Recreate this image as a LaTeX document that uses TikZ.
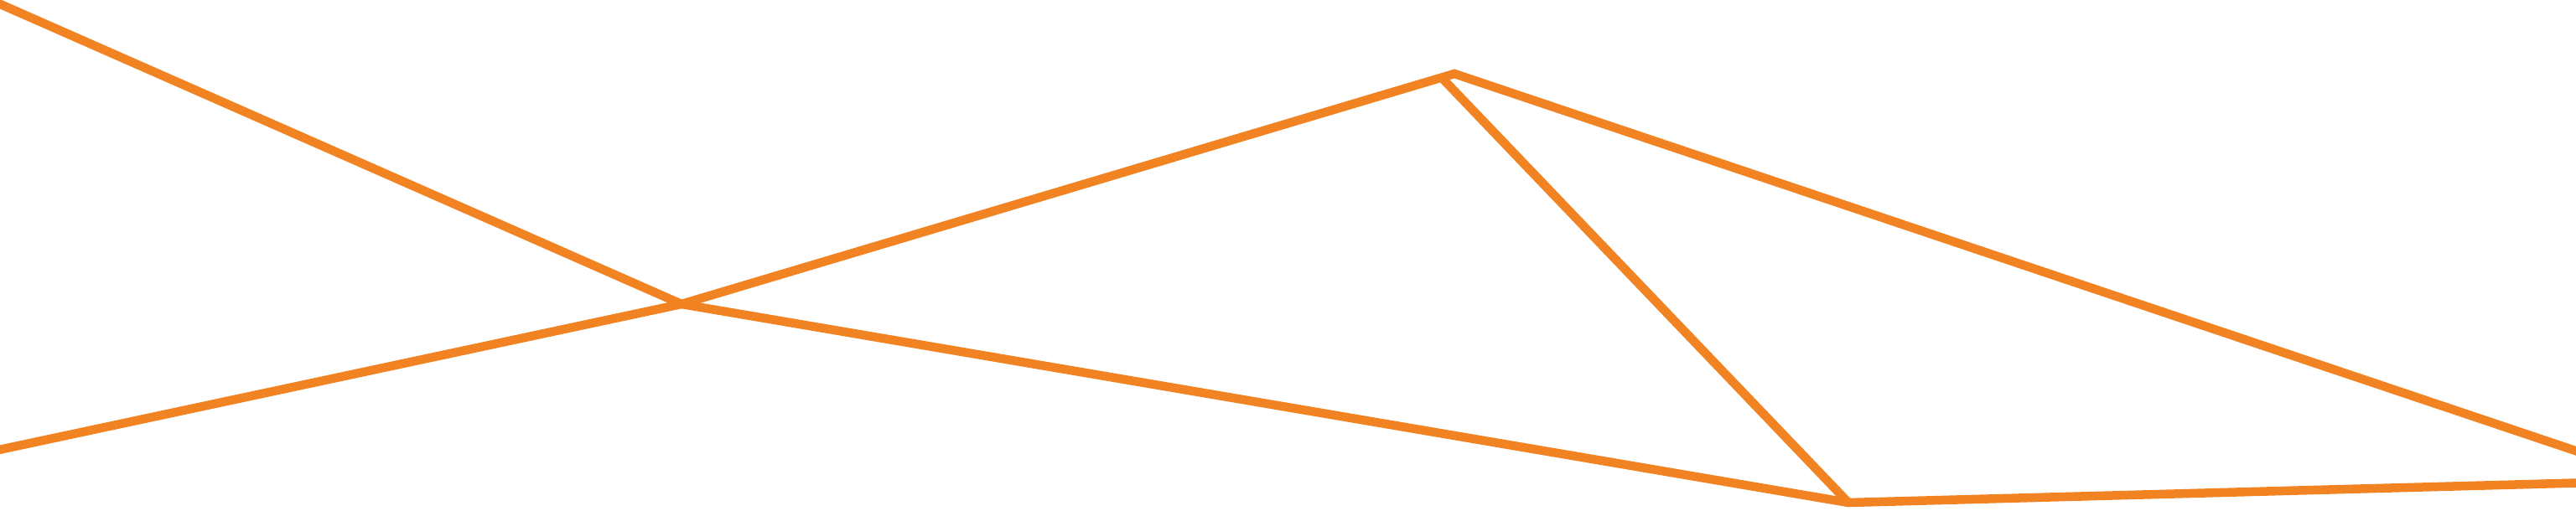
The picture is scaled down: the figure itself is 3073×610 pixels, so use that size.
\documentclass[tikz,border=0pt]{standalone}
\definecolor{lineorange}{RGB}{242,131,34}
\begin{document}
\begin{tikzpicture}[x=1pt,y=-1pt,
  edge/.style={draw=lineorange,line width=10.5pt,line join=miter}]
\useasboundingbox (0,0) rectangle (3073,610);
\clip (0,0) rectangle (3073,610);
\coordinate (tl) at (-20,-4);
\coordinate (bl) at (-20,541);
\coordinate (v) at (813,363);
\coordinate (p) at (1735,88);
\coordinate (pi) at (1722,95);
\coordinate (b) at (2205,600);
\coordinate (rt) at (3093,545);
\coordinate (rb) at (3093,576);
\draw[edge] (tl) -- (v) -- (b) -- (rb);
\draw[edge] (bl) -- (v) -- (p) -- (rt);
\draw[edge] (pi) -- (b);
\end{tikzpicture}
\end{document}
